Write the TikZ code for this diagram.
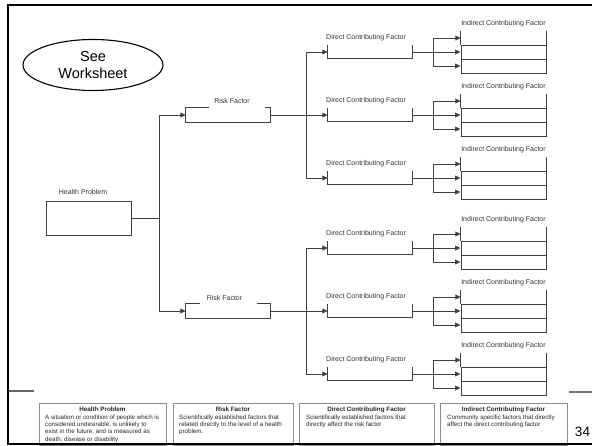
\documentclass[tikz,border=0pt]{standalone}
\usepackage{fontspec}
\setmainfont{Liberation Sans}
\usetikzlibrary{arrows.meta,shapes.geometric}
\begin{document}
\begin{tikzpicture}[x=1pt,y=-1pt,
  wire/.style={draw=black!75, line width=0.9pt},
  feed/.style={wire, -{Triangle[length=5.5pt,width=4.8pt]}},
  tag/.style={font=\fontsize{7}{8}\selectfont, text=black!80, inner sep=0pt, anchor=base},
  riskslot/.style={rectangle, minimum width=84pt, minimum height=14pt, inner sep=0pt},
  dirslot/.style={rectangle, minimum width=84pt, minimum height=13.5pt, inner sep=0pt},
  cell/.style={rectangle, minimum width=85pt, minimum height=14pt, inner sep=0pt},
  keybox/.style={draw=black!45, line width=0.7pt},
  keyhead/.style={font=\fontsize{6.3}{7.3}\selectfont\bfseries, text=black!85, inner sep=0pt, anchor=base},
  keytext/.style={font=\fontsize{6.2}{7.3}\selectfont, text=black!85, inner sep=0pt, align=left, anchor=north west},
]
\useasboundingbox[fill=white] (0,0) rectangle (592,446);

% worksheet callout
\node[ellipse, draw, line width=1.1pt, minimum width=140pt, minimum height=51pt, inner sep=0pt,
      align=center, font=\fontsize{14.5}{17}\selectfont] (ws) at (93,65) {See\\Worksheet};

% health problem
\node[rectangle, draw=black!75, line width=0.9pt, minimum width=85pt, minimum height=34pt, inner sep=0pt] (hp) at (88.5,218) {};
\node[tag] (hpl) at (83,194.5) {Health Problem};

% risk factors
\node[riskslot] (rf1) at (228,115) {};
\node[riskslot] (rf2) at (228,311) {};
\node[tag] (rfl1) at (232,103.5) {Risk Factor};
\node[tag] (rfl2) at (224.5,300.5) {Risk Factor};
\draw[wire] ([xshift=23pt]rf1.north west) -- (rf1.north west) -- (rf1.south west)
  -- (rf1.south east) -- (rf1.north east) -- ([xshift=-5pt]rf1.north east);
\draw[wire] ([xshift=14pt]rf2.north west) -- (rf2.north west) -- (rf2.south west)
  -- (rf2.south east) -- (rf2.north east) -- ([xshift=-13pt]rf2.north east);

\draw[feed] (hp.east) -- ++(28,0) |- (rf1.west);
\draw[feed] (hp.east) -- ++(28,0) |- (rf2.west);

% direct and indirect contributing factors
\foreach \i/\y in {1/52,2/115,3/178,4/248,5/311,6/374}{
  \node[dirslot] (dc\i) at (370,\y) {};
  \node[tag, anchor=base west] (dcl\i) at (326,\y-12.5) {Direct Contributing Factor};
  \draw[wire] (dc\i.north west) -- (dc\i.south west) -- (dc\i.south east) -- (dc\i.north east);
  \node[cell] (ic\i a) at (503.5,\y-14) {};
  \node[cell, draw=black!75, line width=0.9pt] (ic\i b) at (503.5,\y) {};
  \node[cell, draw=black!75, line width=0.9pt] (ic\i c) at (503.5,\y+14) {};
  \draw[wire] (ic\i a.north west) -- (ic\i a.south west) (ic\i a.north east) -- (ic\i a.south east);
  \node[tag] (icl\i) at (503.5,\y-26) {Indirect Contributing Factor};
  \draw[feed] (dc\i.east) -- (ic\i b.west);
  \draw[feed] (dc\i.east) -- ++(21,0) |- (ic\i a.west);
  \draw[feed] (dc\i.east) -- ++(21,0) |- (ic\i c.west);
}

\draw[feed] (rf1.east) -- (dc2.west);
\draw[feed] (rf1.east) -- ++(36,0) |- (dc1.west);
\draw[feed] (rf1.east) -- ++(36,0) |- (dc3.west);
\draw[feed] (rf2.east) -- (dc5.west);
\draw[feed] (rf2.east) -- ++(36,0) |- (dc4.west);
\draw[feed] (rf2.east) -- ++(36,0) |- (dc6.west);

% legend
\draw[keybox] (39,403) rectangle (166,445);
\draw[keybox] (173,403) rectangle (293,445);
\draw[keybox] (299,403) rectangle (434,445);
\draw[keybox] (440,403) rectangle (567,445);
\node[keyhead] (k1h) at (102.5,411.2) {Health Problem};
\node[keytext] (k1t) at (45,414.5) {A situation or condition of people which is\\considered undesirable, is unlikely to\\exist in the future, and is measured as\\death, disease or disability};
\node[keyhead] (k2h) at (233,411.2) {Risk Factor};
\node[keytext] (k2t) at (179,414.5) {Scientifically established factors that\\related directly to the level of a health\\problem.};
\node[keyhead] (k3h) at (366.5,411.2) {Direct Contributing Factor};
\node[keytext] (k3t) at (306,414.5) {Scientifically established factors that\\directly affect the risk factor};
\node[keyhead] (k4h) at (503.5,411.2) {Indirect Contributing Factor};
\node[keytext] (k4t) at (447,414.5) {Community specific factors that directly\\affect the direct contributing factor};

% slide frame and page number
\draw[line width=2pt] (592,5) -- (7.5,5) -- (7.5,444) -- (592,444);
\draw[line width=2.6pt, black!60] (8.5,391) -- (34,391);
\draw[line width=2.6pt, black!55] (569,392) -- (592,392);
\node[inner sep=0pt, anchor=base, font=\fontsize{13.5}{15}\selectfont] (pg) at (582.5,436.9) {34};
\end{tikzpicture}
\end{document}
